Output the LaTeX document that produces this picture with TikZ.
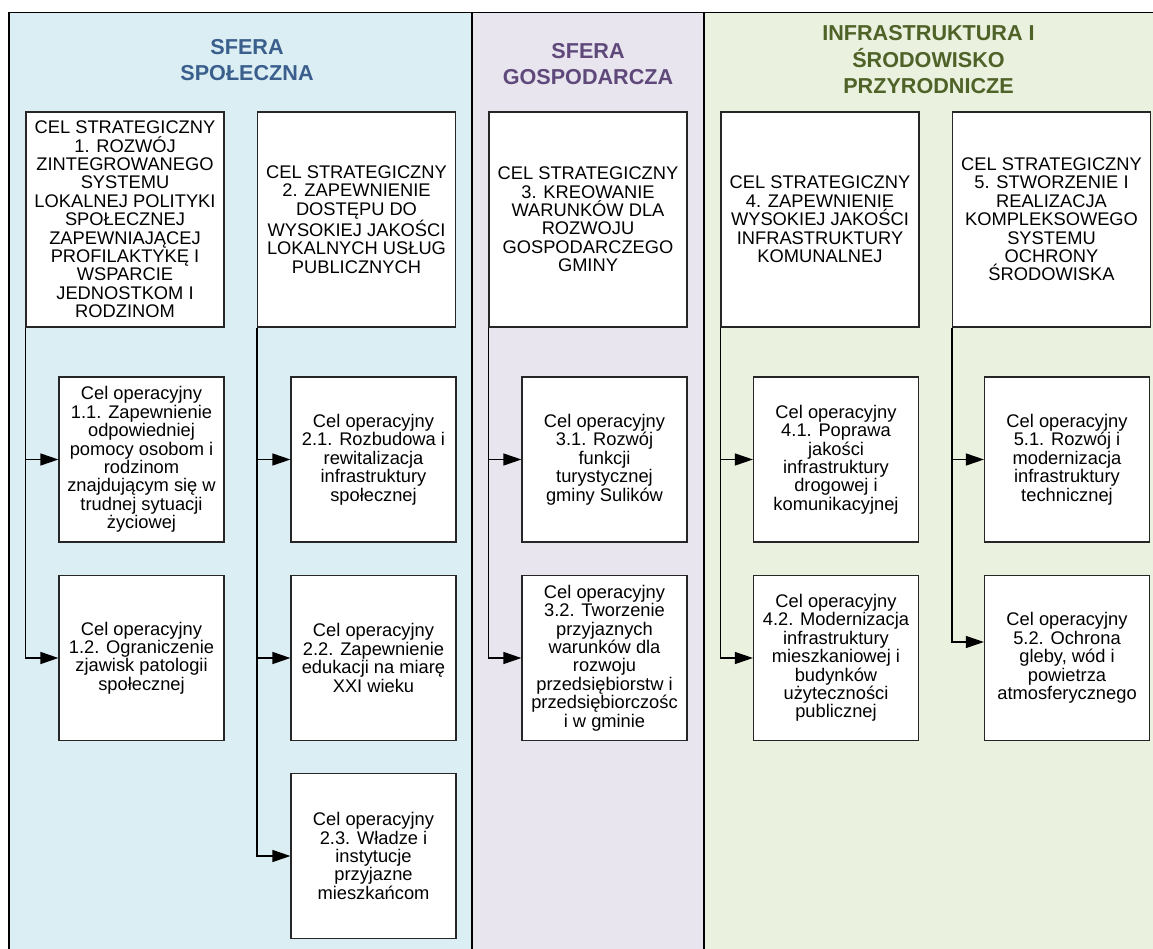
\documentclass[tikz,border=0pt]{standalone}
\usepackage{fontspec}
\setmainfont{Liberation Sans}
\usetikzlibrary{arrows.meta}

\definecolor{spolBg}{HTML}{DAEEF3}
\definecolor{gospBg}{HTML}{E9E5EF}
\definecolor{infraBg}{HTML}{EAF1DE}
\definecolor{spolTxt}{HTML}{3A5F8C}
\definecolor{gospTxt}{HTML}{5F497A}
\definecolor{infraTxt}{HTML}{4F6228}

\begin{document}
\begin{tikzpicture}[x=1pt, y=-1pt,
    celstrat/.style={draw=black!85, line width=1.2pt, fill=white, minimum width=198pt, minimum height=215pt, inner sep=0pt, align=center, font=\fontsize{18.3}{18.4}\selectfont},
    celop/.style={celstrat, minimum width=165pt, minimum height=165pt},
    sfera/.style={align=center, font=\bfseries\fontsize{21.6}{26.5}\selectfont},
    strzalka/.style={draw=black, line width=1.2pt, -{Triangle[length=18pt, width=12pt]}}
]
            \useasboundingbox (0,0) rectangle (1153,949);

            % Lanes
            \fill[spolBg] (9,12.7) rectangle (472,949);
            \fill[gospBg] (472,12.7) rectangle (704,949);
            \fill[infraBg] (704,12.7) rectangle (1153,949);
            \draw[line width=1.3pt] (9,949) -- (9,12.7) -- (1153,12.7);
            \draw[line width=1.3pt] (472,12.7) -- (472,949);
            \draw[line width=1.3pt] (704,12.7) -- (704,949);

            % Headers
            \node[sfera, text=spolTxt] (hSpol) at (247,60) {SFERA\\SPOŁECZNA};
            \node[sfera, text=gospTxt] (hGosp) at (588,64) {SFERA\\GOSPODARCZA};
            \node[sfera, text=infraTxt] (hInfra) at (928.5,60) {INFRASTRUKTURA I\\ŚRODOWISKO\\PRZYRODNICZE};

            % Strategic goals
            \node[celstrat] (s1) at (125,219.5) {CEL STRATEGICZNY\\1. ROZWÓJ\\ZINTEGROWANEGO\\SYSTEMU\\LOKALNEJ POLITYKI\\SPOŁECZNEJ\\ZAPEWNIAJĄCEJ\\PROFILAKTYKĘ I\\WSPARCIE\\JEDNOSTKOM I\\RODZINOM};
            \node[celstrat] (s2) at (356.5,219.5) {CEL STRATEGICZNY\\2. ZAPEWNIENIE\\DOSTĘPU DO\\WYSOKIEJ JAKOŚCI\\LOKALNYCH USŁUG\\PUBLICZNYCH};
            \node[celstrat] (s3) at (588,219.5) {CEL STRATEGICZNY\\3. KREOWANIE\\WARUNKÓW DLA\\ROZWOJU\\GOSPODARCZEGO\\GMINY};
            \node[celstrat] (s4) at (820,219.5) {CEL STRATEGICZNY\\4. ZAPEWNIENIE\\WYSOKIEJ JAKOŚCI\\INFRASTRUKTURY\\KOMUNALNEJ};
            \node[celstrat] (s5) at (1051.5,219.5) {CEL STRATEGICZNY\\5. STWORZENIE I\\REALIZACJA\\KOMPLEKSOWEGO\\SYSTEMU\\OCHRONY\\ŚRODOWISKA};

            % Operational goals
            \node[celop] (o11) at (141.5,459.5) {Cel operacyjny\\1.1. Zapewnienie\\odpowiedniej\\pomocy osobom i\\rodzinom\\znajdującym się w\\trudnej sytuacji\\życiowej};
            \node[celop] (o12) at (141.5,658) {Cel operacyjny\\1.2. Ograniczenie\\zjawisk patologii\\społecznej};
            \node[celop] (o21) at (373.5,459.5) {Cel operacyjny\\2.1. Rozbudowa i\\rewitalizacja\\infrastruktury\\społecznej};
            \node[celop] (o22) at (373.5,658) {Cel operacyjny\\2.2. Zapewnienie\\edukacji na miarę\\XXI wieku};
            \node[celop] (o23) at (373.5,856) {Cel operacyjny\\2.3. Władze i\\instytucje\\przyjazne\\mieszkańcom};
            \node[celop] (o31) at (604.5,459.5) {Cel operacyjny\\3.1. Rozwój\\funkcji\\turystycznej\\gminy Sulików};
            \node[celop] (o32) at (604.5,658) {Cel operacyjny\\3.2. Tworzenie\\przyjaznych\\warunków dla\\rozwoju\\przedsiębiorstw i\\przedsiębiorczośc\\i w gminie};
            \node[celop] (o41) at (836,459.5) {Cel operacyjny\\4.1. Poprawa\\jakości\\infrastruktury\\drogowej i\\komunikacyjnej};
            \node[celop] (o42) at (836,658) {Cel operacyjny\\4.2. Modernizacja\\infrastruktury\\mieszkaniowej i\\budynków\\użyteczności\\publicznej};
            \node[celop] (o51) at (1067,459.5) {Cel operacyjny\\5.1. Rozwój i\\modernizacja\\infrastruktury\\technicznej};
            \node[celop] (o52) at (1067,658) {Cel operacyjny\\5.2. Ochrona\\gleby, wód i\\powietrza\\atmosferycznego};

            % Connectors
            \draw[strzalka] (s1.south west) |- (o11.west);
            \draw[strzalka] (s1.south west) |- (o12.west);
            \draw[strzalka] (s2.south west) |- (o21.west);
            \draw[strzalka] (s2.south west) |- (o22.west);
            \draw[strzalka] (s2.south west) |- (o23.west);
            \draw[strzalka] (s3.south west) |- (o31.west);
            \draw[strzalka] (s3.south west) |- (o32.west);
            \draw[strzalka] (s4.south west) |- (o41.west);
            \draw[strzalka] (s4.south west) |- (o42.west);
            \draw[strzalka] (s5.south west) |- (o51.west);
            \draw[strzalka] (s5.south west) |- ([yshift=16pt]o52.west);
        \end{tikzpicture}
\end{document}
